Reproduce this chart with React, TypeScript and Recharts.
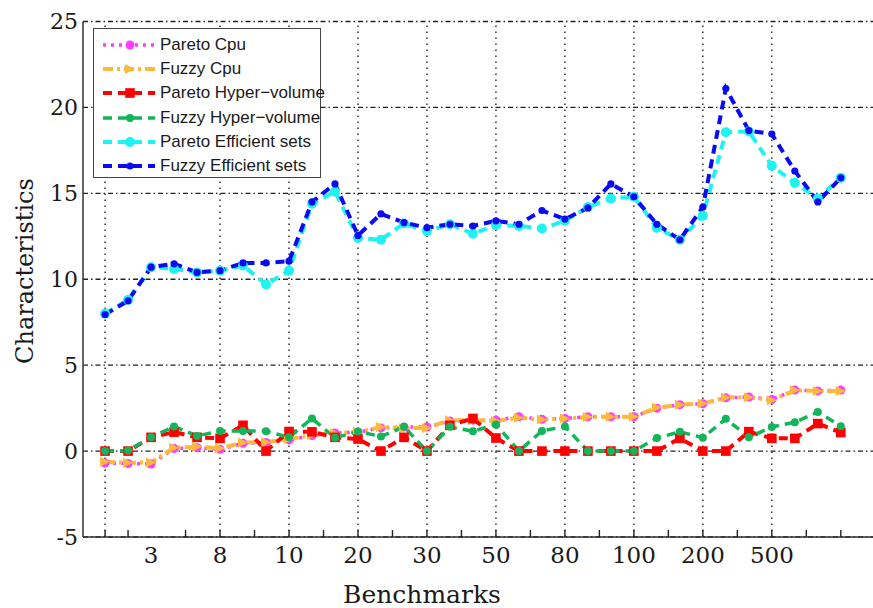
import { LineChart, Line, XAxis, YAxis, CartesianGrid, ReferenceLine } from "recharts";

// one label per benchmark instance, blank where the original axis shows none
const benchmarks = [
  "", "", "3", "", "", "8", "", "", "10", "", "", "20", "", "", "30", "", "",
  "50", "", "", "80", "", "", "100", "", "", "200", "", "", "500", "", "", "",
];

const paretoCpu = [
  -0.7, -0.72, -0.75, 0.15, 0.2, 0.1, 0.45, 0.5, 0.65, 0.9, 1.05, 1.1, 1.35, 1.4, 1.4, 1.75, 1.8,
  1.8, 2.0, 1.85, 1.9, 2.0, 2.0, 2.0, 2.5, 2.7, 2.75, 3.1, 3.15, 3.0, 3.55, 3.5, 3.55,
];
const fuzzyCpu = [
  -0.62, -0.68, -0.66, 0.2, 0.25, 0.16, 0.5, 0.52, 0.7, 0.93, 1.03, 1.12, 1.4, 1.33, 1.35, 1.8, 1.8,
  1.75, 1.94, 1.84, 1.9, 1.99, 2.0, 2.0, 2.53, 2.7, 2.77, 3.12, 3.14, 2.96, 3.54, 3.5, 3.5,
];
const paretoHv = [
  0, 0, 0.8, 1.1, 0.8, 0.74, 1.5, 0, 1.14, 1.12, 0.8, 0.7, 0, 0.8, 0, 1.5, 1.9,
  0.76, 0, 0, 0, 0, 0, 0, 0, 0.74, 0, 0, 1.13, 0.74, 0.74, 1.6, 1.08,
];
const fuzzyHv = [
  0, 0.03, 0.8, 1.43, 0.88, 1.17, 1.17, 1.16, 0.8, 1.9, 0.77, 1.14, 0.85, 1.41, 0, 1.41, 1.15,
  1.55, 0, 1.17, 1.43, 0, 0, 0, 0.76, 1.12, 0.78, 1.88, 0.8, 1.4, 1.68, 2.27, 1.45,
];
const paretoEff = [
  8.0, 8.8, 10.7, 10.6, 10.4, 10.5, 10.8, 9.7, 10.5, 14.4, 15.1, 12.4, 12.3, 13.25, 12.8, 13.2, 12.65,
  13.15, 13.1, 12.95, 13.4, 14.2, 14.7, 14.8, 13.0, 12.3, 13.7, 18.55, 18.6, 16.6, 15.6, 14.7, 15.9,
];
const fuzzyEff = [
  7.95, 8.75, 10.7, 10.9, 10.4, 10.5, 10.95, 10.95, 11.05, 14.5, 15.55, 12.55, 13.8, 13.3, 13.0, 13.2, 13.1,
  13.4, 13.2, 14.0, 13.5, 14.15, 15.55, 14.8, 13.2, 12.3, 14.2, 21.1, 18.65, 18.45, 16.3, 14.5, 15.9,
];

const yTicks = [-5, 0, 5, 10, 15, 20, 25];
const xTicks = [0, 1, 2, 3.5, 5, 6.5, 8, 9.5, 11, 12.5, 14, 15.5, 17, 18.5, 20, 21.5, 23, 24.5, 26, 27.5, 29, 30.5, 32];
const xGrid = [0, 5, 8, 11, 14, 17, 20, 23, 26, 29];

const data = benchmarks.map((b, i) => ({
  x: i,
  paretoCpu: paretoCpu[i],
  fuzzyCpu: fuzzyCpu[i],
  paretoHv: paretoHv[i],
  fuzzyHv: fuzzyHv[i],
  paretoEff: paretoEff[i],
  fuzzyEff: fuzzyEff[i],
}));

type Shape = "circle" | "triangle" | "square";

const SERIES: { key: string; name: string; color: string; dash: string; width: number; shape: Shape; size: number }[] = [
  { key: "paretoCpu", name: "Pareto Cpu", color: "#ff3dff", dash: "3 5", width: 3.5, shape: "circle", size: 4.5 },
  { key: "fuzzyCpu", name: "Fuzzy Cpu", color: "#fdb93b", dash: "10 4 3 4", width: 4, shape: "triangle", size: 5 },
  { key: "paretoHv", name: "Pareto Hyper\u2212volume", color: "#ff0000", dash: "9 6", width: 4, shape: "square", size: 4.8 },
  { key: "fuzzyHv", name: "Fuzzy Hyper\u2212volume", color: "#12b559", dash: "9 6", width: 3.5, shape: "circle", size: 4 },
  { key: "paretoEff", name: "Pareto Efficient sets", color: "#1ff2f2", dash: "9 6", width: 4, shape: "circle", size: 5 },
  { key: "fuzzyEff", name: "Fuzzy Efficient sets", color: "#0a0af5", dash: "9 6", width: 4, shape: "circle", size: 3.6 },
];

const SERIF = "'DejaVu Serif', serif";
const INK = "#1a1a1a";

function Marker({ cx, cy, shape, color, size }: { cx: number; cy: number; shape: Shape; color: string; size: number }) {
  if (shape === "square") {
    return <rect x={cx - size} y={cy - size} width={size * 2} height={size * 2} fill={color} />;
  }
  if (shape === "triangle") {
    return <polygon points={`${cx - size},${cy - size} ${cx + size},${cy} ${cx - size},${cy + size}`} fill={color} />;
  }
  return <circle cx={cx} cy={cy} r={size} fill={color} />;
}

function XTick(props: any) {
  const { x, y, payload } = props;
  const v = payload.value;
  const label = benchmarks[v] ?? "";
  return (
    <g>
      {v !== 2 && <line x1={x} x2={x} y1={y} y2={y - 7} stroke="#222" strokeWidth={1.4} />}
      {label && (
        <text x={x} y={y + 18} textAnchor="middle" dominantBaseline="central" fontFamily={SERIF} fontSize={23} fill={INK}>
          {label}
        </text>
      )}
    </g>
  );
}

function LegendBox() {
  return (
    <div
      style={{
        position: "absolute",
        left: 93,
        top: 28,
        width: 228,
        height: 150,
        boxSizing: "border-box",
        border: "1.5px solid #444",
        background: "#fff",
        paddingTop: 4,
      }}
    >
      {SERIES.map((s) => (
        <div key={s.key} style={{ display: "flex", alignItems: "center", height: 24.2, whiteSpace: "nowrap" }}>
          <svg width={66} height={24} style={{ flex: "none" }}>
            <line x1={9} x2={61} y1={12} y2={12} stroke={s.color} strokeWidth={s.width} strokeDasharray={s.dash} />
            <Marker cx={36} cy={12} shape={s.shape} color={s.color} size={s.size} />
          </svg>
          <span style={{ fontFamily: "'Liberation Sans', Arial, sans-serif", fontSize: 17, color: INK }}>{s.name}</span>
        </div>
      ))}
    </div>
  );
}

export default function App() {
  return (
    <div style={{ position: "absolute", left: 0, top: 0, width: 873, height: 608, background: "#fff", overflow: "hidden" }}>
      <LineChart width={873} height={608} data={data} margin={{ top: 21.5, right: 0, left: 0, bottom: 0 }}>
        <CartesianGrid vertical={false} stroke="#222" strokeWidth={1.3} strokeDasharray="5 3 1.5 3" />
        {xGrid.map((v) => (
          <ReferenceLine key={v} x={v} stroke="#222" strokeWidth={1.4} strokeDasharray="1.5 4.5" />
        ))}
        <XAxis
          dataKey="x"
          type="number"
          domain={[-0.96, 33.4]}
          ticks={xTicks}
          interval={0}
          height={71}
          tickSize={0}
          tickMargin={0}
          tickLine={false}
          axisLine={{ stroke: "#333", strokeWidth: 1.5 }}
          tick={<XTick />}
          label={{
            content: () => (
              <text x={422} y={603} textAnchor="middle" fontFamily={SERIF} fontSize={25} fill={INK}>
                Benchmarks
              </text>
            ),
          }}
        />
        <YAxis
          domain={[-5, 25]}
          ticks={yTicks}
          width={83}
          interval={0}
          tickSize={0}
          tickMargin={5}
          tickLine={false}
          axisLine={{ stroke: "#333", strokeWidth: 1.5 }}
          tick={{ fontFamily: SERIF, fontSize: 22, fill: INK }}
          label={{
            content: () => (
              <text
                transform="translate(25,271) rotate(-90)"
                textAnchor="middle"
                dominantBaseline="central"
                fontFamily={SERIF}
                fontSize={24}
                fill={INK}
              >
                Characteristics
              </text>
            ),
          }}
        />
        {SERIES.map((s) => (
          <Line
            key={s.key}
            dataKey={s.key}
            name={s.name}
            type="linear"
            stroke={s.color}
            strokeWidth={s.width}
            strokeDasharray={s.dash}
            isAnimationActive={false}
            dot={(p: any) => <Marker key={p.index} cx={p.cx} cy={p.cy} shape={s.shape} color={s.color} size={s.size} />}
            activeDot={false}
          />
        ))}
      </LineChart>
      <LegendBox />
    </div>
  );
}
